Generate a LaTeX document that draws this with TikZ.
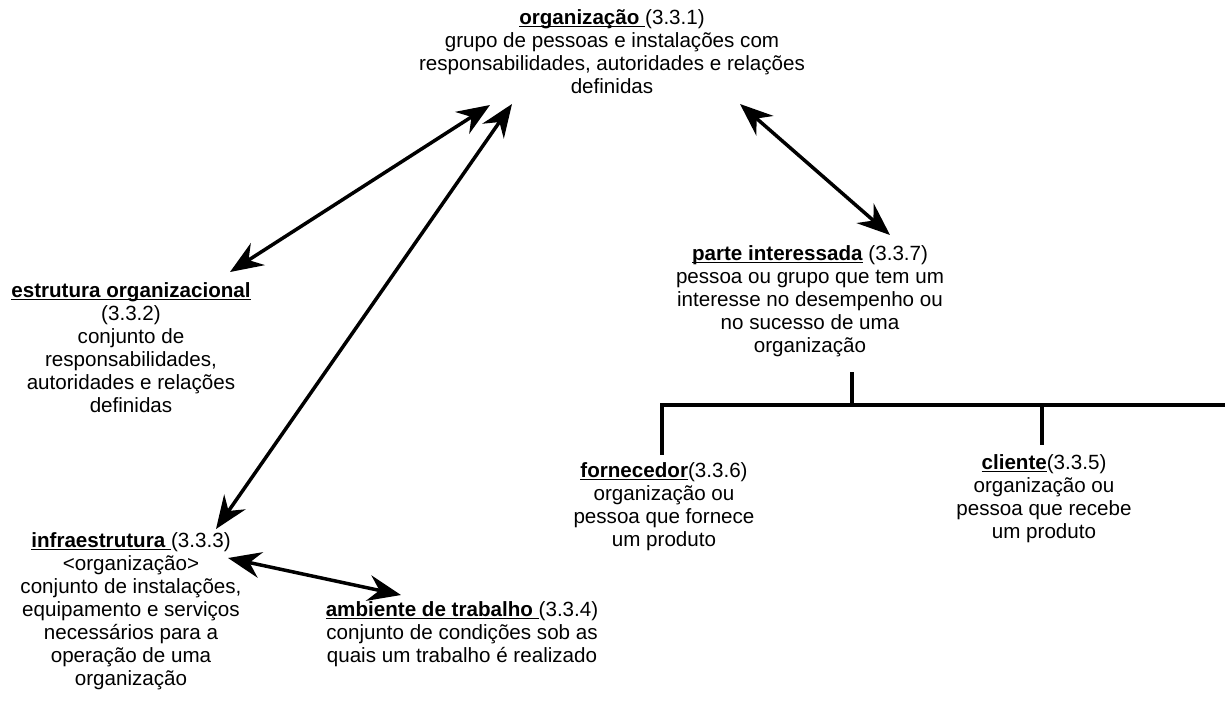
\documentclass[tikz,border=0pt]{standalone}
\usepackage{fontspec}
\setmainfont{Liberation Sans}
\usetikzlibrary{arrows.meta}
\newcommand\und[1]{\setbox0\hbox{#1}\rlap{\rule[-3pt]{\wd0}{1.6pt}}\box0\relax}
\tikzset{
  lbl/.style={align=center, inner sep=0pt, anchor=north, font=\fontsize{20.6}{23}\selectfont},
  tip/.tip={Stealth[length=33pt,width=26pt,inset=11pt]},
  dbl/.style={line width=3.5pt, tip-tip},
  tree/.style={line width=4pt}
}
\begin{document}
\begin{tikzpicture}[x=1pt,y=-1pt]
\useasboundingbox (0,0) rectangle (1225,702);
\node[lbl] (org) at (612,9) {\und{\textbf{organização}\ }(3.3.1)\\grupo de pessoas e instalações com\\responsabilidades, autoridades e relações\\definidas};
\node[lbl] (estr) at (131,282) {\und{\textbf{estrutura organizacional}}\\(3.3.2)\\conjunto de\\responsabilidades,\\autoridades e relações\\definidas};
\node[lbl] (infra) at (131,532) {\und{\textbf{infraestrutura}\ }(3.3.3)\\<organização>\\conjunto de instalações,\\equipamento e serviços\\necessários para a\\operação de uma\\organização};
\node[lbl] (amb) at (462,601) {\und{\textbf{ambiente de trabalho}\ }(3.3.4)\\conjunto de condições sob as\\quais um trabalho é realizado};
\node[lbl] (parte) at (810,245) {\und{\textbf{parte interessada}} (3.3.7)\\pessoa ou grupo que tem um\\interesse no desempenho ou\\no sucesso de uma\\organização};
\node[lbl] (forn) at (664,462) {\und{\textbf{fornecedor}}(3.3.6)\\organização ou\\pessoa que fornece\\um produto};
\node[lbl] (cli) at (1044,454) {\und{\textbf{cliente}}(3.3.5)\\organização ou\\pessoa que recebe\\um produto};
% arrow end points
\coordinate (o1) at (490,105);
\coordinate (e1) at (230,272);
\coordinate (o2) at (512,104);
\coordinate (i2) at (216,529);
\coordinate (o3) at (740,104);
\coordinate (p3) at (890,235);
\coordinate (i4) at (228,558);
\coordinate (a4) at (401,595);
\draw[dbl] (o1) -- (e1);
\draw[dbl] (o2) -- (i2);
\draw[dbl] (o3) -- (p3);
\draw[dbl] (i4) -- (a4);
% tree
\coordinate (pt) at (852,372);
\coordinate (pb) at (852,405);
\coordinate (hl) at (660,405);
\coordinate (hr) at (1225,405);
\coordinate (ft) at (662,405);
\coordinate (fb) at (662,455);
\coordinate (ct) at (1042,405);
\coordinate (cb) at (1042,445);
\draw[tree] (pt) -- (pb);
\draw[tree] (hl) -- (hr);
\draw[tree] (ft) -- (fb);
\draw[tree] (ct) -- (cb);
\end{tikzpicture}
\end{document}
